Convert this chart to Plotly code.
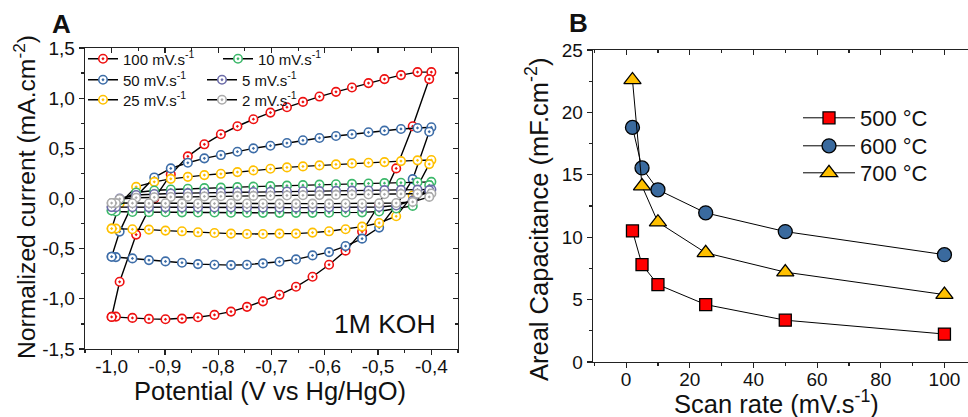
import plotly.graph_objects as go

# ---------------- Panel A : cyclic voltammograms ----------------
E_FWD = [-1.000, -0.985, -0.954, -0.920, -0.889, -0.857, -0.826, -0.795, -0.764, -0.734,
         -0.702, -0.671, -0.641, -0.610, -0.579, -0.549, -0.518, -0.488, -0.457, -0.426, -0.400]
E_REV = [-0.404, -0.435, -0.466, -0.498, -0.530, -0.561, -0.592, -0.623, -0.654, -0.685,
         -0.716, -0.746, -0.776, -0.807, -0.838, -0.868, -0.899, -0.930, -0.961, -0.992, -1.000]

I100_FWD = [-1.18, -0.83, -0.36, 0.00, 0.24, 0.42, 0.54, 0.64, 0.72, 0.79, 0.856, 0.91, 0.963,
            1.016, 1.063, 1.106, 1.15, 1.19, 1.23, 1.26, 1.26]
I100_REV = [1.19, 0.72, 0.30, -0.06, -0.33, -0.52, -0.66, -0.78, -0.88, -0.96, -1.025, -1.08,
            -1.127, -1.16, -1.184, -1.197, -1.204, -1.20, -1.19, -1.177, -1.18]
I50_FWD = [-0.58, -0.33, 0.02, 0.21, 0.30, 0.356, 0.40, 0.433, 0.466, 0.50, 0.526, 0.553, 0.58,
           0.603, 0.623, 0.64, 0.66, 0.676, 0.693, 0.703, 0.71]
I50_REV = [0.666, 0.193, -0.07, -0.29, -0.40, -0.474, -0.534, -0.567, -0.607, -0.63, -0.647,
           -0.66, -0.664, -0.66, -0.654, -0.64, -0.627, -0.614, -0.597, -0.584, -0.58]
I25_FWD = [-0.30, -0.05, 0.116, 0.166, 0.196, 0.216, 0.233, 0.246, 0.263, 0.28, 0.296, 0.31,
           0.32, 0.33, 0.34, 0.35, 0.356, 0.363, 0.373, 0.38, 0.383]
I25_REV = [0.343, 0.03, -0.177, -0.244, -0.28, -0.307, -0.327, -0.34, -0.35, -0.35, -0.354,
           -0.354, -0.35, -0.344, -0.337, -0.327, -0.32, -0.31, -0.307, -0.30, -0.30]
I10_FWD = [-0.12, -0.02, 0.06, 0.08, 0.09, 0.097, 0.103, 0.108, 0.113, 0.118, 0.123, 0.128,
           0.133, 0.138, 0.142, 0.146, 0.15, 0.153, 0.157, 0.162, 0.166]
I10_REV = [0.133, -0.074, -0.10, -0.13, -0.138, -0.14, -0.142, -0.143, -0.143, -0.143, -0.143,
           -0.142, -0.142, -0.14, -0.14, -0.138, -0.137, -0.136, -0.135, -0.13, -0.12]
I5_FWD = [-0.085, 0.0, 0.035, 0.045, 0.05, 0.054, 0.057, 0.06, 0.063, 0.065, 0.067, 0.07, 0.072,
          0.074, 0.076, 0.078, 0.08, 0.083, 0.086, 0.088, 0.09]
I5_REV = [0.083, -0.02, -0.07, -0.085, -0.088, -0.09, -0.09, -0.091, -0.091, -0.091, -0.091,
          -0.09, -0.09, -0.09, -0.09, -0.089, -0.088, -0.088, -0.087, -0.086, -0.085]
I2_FWD = [-0.045, -0.005, 0.008, 0.012, 0.015, 0.018, 0.02, 0.022, 0.024, 0.026, 0.028, 0.03,
          0.032, 0.034, 0.036, 0.038, 0.04, 0.042, 0.045, 0.047, 0.05]
I2_REV = [0.016, -0.034, -0.045, -0.048, -0.05, -0.05, -0.051, -0.051, -0.051, -0.051, -0.05,
          -0.05, -0.05, -0.05, -0.05, -0.049, -0.048, -0.048, -0.047, -0.046, -0.045]

CV_NAMES = ["100 mV.s<sup>-1</sup>", "50 mV.s<sup>-1</sup>", "25 mV.s<sup>-1</sup>",
            "10 mV.s<sup>-1</sup>", "5 mV.s<sup>-1</sup>", "2 mV.s<sup>-1</sup>"]
CV_COLORS = ["#EE1111", "#3D6DA8", "#FFC000", "#3CB86A", "#6C6CA8", "#ABABAB"]
CV_FWD = [I100_FWD, I50_FWD, I25_FWD, I10_FWD, I5_FWD, I2_FWD]
CV_REV = [I100_REV, I50_REV, I25_REV, I10_REV, I5_REV, I2_REV]

XA_TICKS = [-1.0, -0.9, -0.8, -0.7, -0.6, -0.5, -0.4]
YA_TICKS = [-1.5, -1.0, -0.5, 0.0, 0.5, 1.0, 1.5]

# ---------------- Panel B : areal capacitance ----------------
SCAN_RATE = [2, 5, 10, 25, 50, 100]
C_500 = [10.5, 7.8, 6.2, 4.6, 3.35, 2.24]
C_600 = [18.8, 15.55, 13.8, 11.95, 10.45, 8.6]
C_700 = [22.6, 14.1, 11.2, 8.75, 7.2, 5.4]
B_NAMES = ["500 °C", "600 °C", "700 °C"]
XB_TICKS = [0, 20, 40, 60, 80, 100]
YB_TICKS = [0, 5, 10, 15, 20, 25]

FONT = "Liberation Sans, Arial, sans-serif"
AX = "#222222"
W, H = 968, 417


def lab(v):
    return ("%.1f" % v).replace(".", ",")


fig = go.Figure()

# legend placement (pixel: left of legend box, centre row y)
LEG_A = [(83, 59), (83, 80), (83, 100), (218, 59), (202, 80), (202, 100)]
LEG_B = [(798, 118), (798, 146), (798, 173)]

for i in range(6):
    fig.add_trace(go.Scatter(
        x=E_FWD + E_REV, y=CV_FWD[i] + CV_REV[i], mode="lines+markers",
        name=CV_NAMES[i], legend="legend" if i == 0 else "legend%d" % (i + 1),
        line=dict(color="black", width=1.4),
        marker=dict(symbol="circle-dot", size=8.5, color="white",
                    line=dict(color=CV_COLORS[i], width=1.6)),
        xaxis="x", yaxis="y"))

b_styles = [("square", "#FF0000", 12), ("circle", "#3A6A9E", 14), ("triangle-up", "#FFC000", 15)]
for k, (name, vals, (sym, col, sz)) in enumerate(zip(B_NAMES, [C_500, C_600, C_700], b_styles)):
    fig.add_trace(go.Scatter(
        x=SCAN_RATE, y=vals, mode="lines+markers", name=name, legend="legend%d" % (k + 7),
        line=dict(color="black", width=1),
        marker=dict(symbol=sym, size=sz, color=col, line=dict(color="black", width=1.3)),
        xaxis="x2", yaxis="y2"))

# empty helper traces so the mirror axes exist
fig.add_trace(go.Scatter(x=[], y=[], xaxis="x3", yaxis="y3", showlegend=False))
fig.add_trace(go.Scatter(x=[], y=[], xaxis="x4", yaxis="y2", showlegend=False))

xa_dom = [85 / W, 458 / W]
ya_dom = [1 - 349 / H, 1 - 48 / H]
xb_dom = [593 / W, 1.0]
yb_dom = [1 - 362 / H, 1 - 50 / H]
xa_rng = [-1.05, -0.35]
ya_rng = [-1.5, 1.5]
xb_rng = [-10.4, 107.4]
yb_rng = [0, 25]

tickfont = dict(family=FONT, size=19, color="#111")
common = dict(showgrid=False, zeroline=False, showline=True, linecolor=AX, linewidth=1.3,
              tickcolor=AX, tickwidth=1.2, tickfont=tickfont, automargin=False)


def minor(d, side):
    return dict(tickmode="linear", tick0=0, dtick=d, ticks=side, ticklen=3, tickcolor=AX)


layout = dict(
    template="none",
    width=W, height=H, margin=dict(l=0, r=0, t=0, b=0, pad=0, autoexpand=False),
    paper_bgcolor="white", plot_bgcolor="white",
    font=dict(family=FONT, color="#111"),
    showlegend=True,
    xaxis=dict(domain=xa_dom, range=xa_rng, anchor="y", tickmode="array", tickvals=XA_TICKS,
               ticktext=[lab(v) for v in XA_TICKS], ticks="outside", ticklen=5,
               ticklabelstandoff=-5, minor=minor(0.05, "outside"), **common),
    yaxis=dict(domain=ya_dom, range=ya_rng, anchor="x", tickmode="array", tickvals=YA_TICKS,
               ticktext=[lab(v) for v in YA_TICKS], ticks="outside", ticklen=5,
               minor=minor(0.25, "outside"), **common),
    xaxis3=dict(overlaying="x", side="top", anchor="y", range=xa_rng, showticklabels=False,
                tickmode="linear", tick0=0, dtick=0.1, ticks="inside", ticklen=5,
                minor=minor(0.05, "inside"), **common),
    yaxis3=dict(overlaying="y", side="right", anchor="x", range=ya_rng, showticklabels=False,
                tickmode="linear", tick0=0, dtick=0.5, ticks="inside", ticklen=5,
                minor=minor(0.25, "inside"), **common),
    xaxis2=dict(domain=xb_dom, range=xb_rng, anchor="y2", tickmode="array", tickvals=XB_TICKS,
                ticks="outside", ticklen=5, ticklabelstandoff=-5,
                minor=minor(10, "outside"), **common),
    yaxis2=dict(domain=yb_dom, range=yb_rng, anchor="x2", tickmode="array", tickvals=YB_TICKS,
                ticks="outside", ticklen=5, minor=minor(2.5, "outside"), **common),
    xaxis4=dict(overlaying="x2", side="top", anchor="y2", range=xb_rng, showticklabels=False,
                tickmode="linear", tick0=0, dtick=20, ticks="inside", ticklen=5,
                minor=minor(10, "inside"), **common),
)

for i, (px, py) in enumerate(LEG_A):
    key = "legend" if i == 0 else "legend%d" % (i + 1)
    layout[key] = dict(x=px / W, y=1 - py / H, xanchor="left", yanchor="middle",
                       bgcolor="rgba(0,0,0,0)", borderwidth=0, itemwidth=30,
                       font=dict(family=FONT, size=15, color="#111"))
for k, (px, py) in enumerate(LEG_B):
    layout["legend%d" % (k + 7)] = dict(x=px / W, y=1 - py / H, xanchor="left",
                                         yanchor="middle", bgcolor="rgba(0,0,0,0)",
                                         borderwidth=0, itemwidth=52,
                                         font=dict(family=FONT, size=22, color="#111"))
fig.update_layout(**layout)

ann = [
    dict(text="<b>A</b>", x=62, y=24, size=26, angle=0),
    dict(text="<b>B</b>", x=578, y=23, size=26, angle=0),
    dict(text="1M KOH", x=385, y=324, size=26.5, angle=0),
    dict(text="Potential (V vs Hg/HgO)", x=270, y=391, size=25.5, angle=0),
    dict(text="Scan rate (mV.s<sup>-1</sup>)", x=776, y=402, size=25.5, angle=0),
    dict(text="Normalized current (mA.cm<sup>-2</sup>)", x=25, y=197, size=24.7, angle=-90),
    dict(text="Areal Capacitance (mF.cm<sup>-2</sup>)", x=537, y=220, size=25.5, angle=-90),
]
for a in ann:
    fig.add_annotation(text=a["text"], x=a["x"] / W, y=1 - a["y"] / H, xref="paper",
                       yref="paper", showarrow=False, xanchor="center", yanchor="middle",
                       textangle=a["angle"],
                       font=dict(family=FONT, size=a["size"], color="#111"))

fig.write_html("out.html",
               config={"displayModeBar": False, "staticPlot": True},
               post_script="document.body.style.margin='0px';"
                           "document.body.style.overflow='hidden';")
